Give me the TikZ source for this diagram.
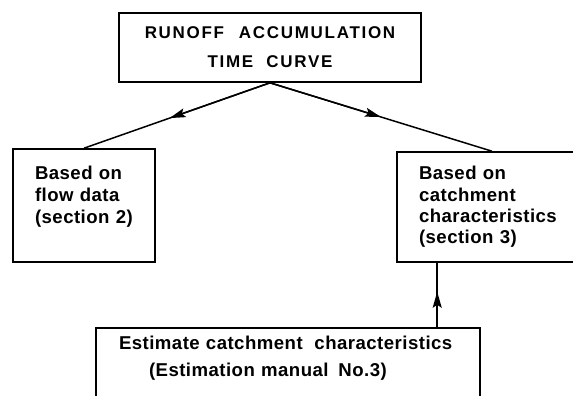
\documentclass[tikz,border=0pt]{standalone}
\usepackage{fontspec}
\setmainfont{Liberation Sans}
\newfontfamily\capsfont[LetterSpace=10]{Liberation Sans}
\newfontfamily\boxfont[LetterSpace=2.5]{Liberation Sans}
\usetikzlibrary{arrows.meta, calc}

\tikzset{
  box/.style={draw=black, line width=1.6pt, inner sep=0pt},
  boxtext/.style={align=left, font=\boxfont\bfseries\fontsize{18.6}{#1}\selectfont},
  head/.style={-{Stealth[length=16pt, width=9pt, inset=3pt]}},
}

\begin{document}
\begin{tikzpicture}[x=1pt, y=-1pt, line width=1.5pt]
    \useasboundingbox (0, 0) rectangle (573, 396);
    \clip (0, 0) rectangle (573, 396);

    % draw the boxes
    \node[box, minimum width=302pt, minimum height=69pt, align=center,
          font=\capsfont\bfseries\fontsize{17}{29}\selectfont]
      (curve) at (270, 47.5) {RUNOFF\hspace{0.5em} ACCUMULATION\\TIME\hspace{0.4em} CURVE};

    \node[box, minimum width=142pt, minimum height=113pt, text width=98pt, boxtext=22]
      (flow) at (84, 205.5) {Based on\\flow data\\(section 2)\\\mbox{}};

    \node[box, minimum width=190pt, minimum height=110pt, text width=146pt, boxtext=21.3]
      (catch) at (492, 207) {Based on\\catchment\\characteristics\\(section 3)};

    \node[box, minimum width=384pt, minimum height=84pt, text width=338pt, boxtext=27]
      (estimate) at (288, 370) {Estimate catchment\hspace{0.3em} characteristics\\\hspace*{30pt}(Estimation manual\hspace{0.2em} No.3)\\\mbox{}};

    % draw arrows, head half way along
    \coordinate (up) at ([xshift=41pt]catch.south west);
    \coordinate (low) at (up |- estimate.north);
    \draw (curve.south) -- (flow.north);
    \draw[head] (curve.south) -- ($(curve.south)!0.54!(flow.north)$);
    \draw (curve.south) -- (catch.north);
    \draw[head] (curve.south) -- ($(curve.south)!0.5!(catch.north)$);
    \draw (low) -- (up);
    \draw[head] (low) -- ($(low)!0.55!(up)$);

\end{tikzpicture}
\end{document}
